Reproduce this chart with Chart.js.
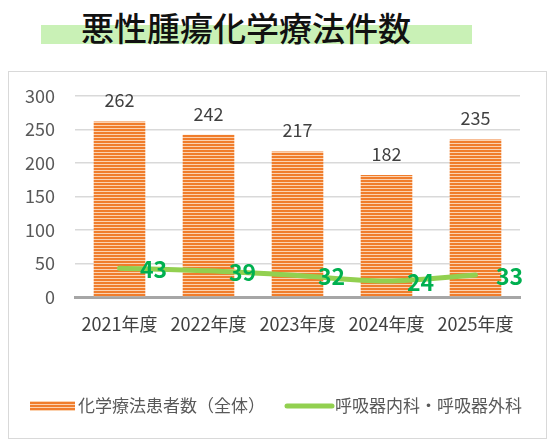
<!DOCTYPE html>
<html><head><meta charset="utf-8">
<script src="https://cdn.jsdelivr.net/npm/chart.js@4"></script>
<style>
html,body{margin:0;padding:0;background:#fff;width:556px;height:444px;overflow:hidden;font-family:"Noto Sans CJK JP",sans-serif;}
#band{position:absolute;left:41px;top:25px;width:431px;height:19px;background:#c9f1b6;}
#title{position:absolute;left:81px;top:5px;font-size:33px;line-height:44px;color:#111;font-family:"Noto Sans CJK JP";font-weight:500;white-space:nowrap;}
#frame{position:absolute;left:8px;top:71px;width:537px;height:366px;border:1.5px solid #d9d9d9;}
#c{position:absolute;left:0;top:0;}
</style></head><body>
<div id="band"></div>
<div id="title">悪性腫瘍化学療法件数</div>
<div id="frame"></div>
<canvas id="c" width="556" height="444"></canvas>
<script>
const categories = ["2021年度","2022年度","2023年度","2024年度","2025年度"];
const totalPatients = [262,242,217,182,235];
const respiratory = [43,39,32,24,33];
const yTicks = [0,50,100,150,200,250,300];
const seriesNames = ["化学療法患者数（全体）","呼吸器内科・呼吸器外科"];

function makePattern(){
  const p=document.createElement('canvas'); p.width=4; p.height=3;
  const g=p.getContext('2d');
  g.fillStyle='#f07d2c'; g.fillRect(0,0,4,3);
  g.fillStyle='#fbd2b0'; g.fillRect(0,2,4,1);
  return document.getElementById('c').getContext('2d').createPattern(p,'repeat');
}
const pat = makePattern();
const FONT = '"Noto Sans CJK JP", sans-serif';

const labelPlugin = {
  id:'labels',
  afterDatasetsDraw(chart){
    const ctx=chart.ctx;
    ctx.save();
    const m0=chart.getDatasetMeta(0);
    ctx.font='18px '+FONT; ctx.fillStyle='#404040'; ctx.textAlign='center'; ctx.textBaseline='middle';
    m0.data.forEach((el,i)=>{ ctx.fillText(String(totalPatients[i]), el.x, el.y-21); });
    const m1=chart.getDatasetMeta(1);
    ctx.font='bold 23px '+FONT; ctx.fillStyle='#00b050';
    m1.data.forEach((el,i)=>{ ctx.fillText(String(respiratory[i]), el.x+34, el.y+1); });
    ctx.restore();
  },
  afterDraw(chart){
    const ctx=chart.ctx; ctx.save();
    const y=406;
    ctx.fillStyle=pat; ctx.fillRect(30,y-5,45,10);
    ctx.strokeStyle='#92d050'; ctx.lineWidth=5; ctx.lineCap='round';
    ctx.beginPath(); ctx.moveTo(287,y); ctx.lineTo(332,y); ctx.stroke();
    ctx.font='17px '+FONT; ctx.fillStyle='#595959'; ctx.textAlign='left'; ctx.textBaseline='middle';
    ctx.fillText(seriesNames[0],78,y);
    ctx.fillText(seriesNames[1],335,y);
    ctx.restore();
  }
};

new Chart(document.getElementById('c'),{
  data:{
    labels:categories,
    datasets:[
      {type:'bar',label:seriesNames[0],data:totalPatients,backgroundColor:pat,borderWidth:0,barPercentage:0.58,categoryPercentage:1,order:2},
      {type:'line',label:seriesNames[1],data:respiratory,borderColor:'#92d050',borderWidth:5,pointRadius:0,tension:0.35,fill:false,order:1,borderCapStyle:'round'}
    ]
  },
  options:{
    responsive:false,animation:false,
    layout:{padding:{left:10,right:36,top:96,bottom:107}},
    plugins:{legend:{display:false},tooltip:{enabled:false}},
    scales:{
      x:{
        grid:{display:false,drawTicks:false},
        border:{display:true,color:'#a6a6a6',width:3},
        ticks:{color:'#404040',font:{family:FONT,size:18},padding:16,maxRotation:0,autoSkip:false},
        afterFit(s){s.height=40;}
      },
      y:{
        min:0,max:300,
        afterBuildTicks(s){s.ticks=yTicks.map(v=>({value:v}));},
        grid:{color:'#d9d9d9',lineWidth:1.5,drawTicks:false},
        border:{display:false},
        ticks:{color:'#595959',font:{family:FONT,size:18},padding:20},
        afterFit(s){s.width=65;}
      }
    }
  },
  plugins:[labelPlugin]
});
</script>
</body></html>
